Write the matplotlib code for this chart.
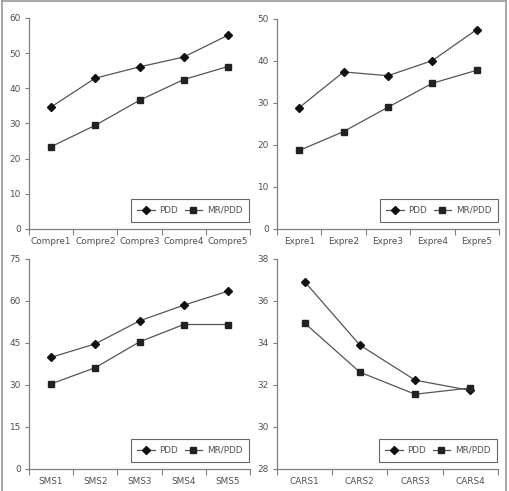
import matplotlib
matplotlib.use("Agg")
import matplotlib.pyplot as plt
from matplotlib.lines import Line2D

plt.rcParams['font.family'] = ['DejaVu Sans']

compre_labels = ["Compre1", "Compre2", "Compre3", "Compre4", "Compre5"]
compre_pdd = [34.7, 42.9, 46.1, 48.9, 55.1]
compre_mr = [23.4, 29.5, 36.6, 42.5, 46.2]

expre_labels = ["Expre1", "Expre2", "Expre3", "Expre4", "Expre5"]
expre_pdd = [28.9, 37.4, 36.5, 40.1, 47.5]
expre_mr = [18.7, 23.2, 29.0, 34.7, 37.8]

sms_labels = ["SMS1", "SMS2", "SMS3", "SMS4", "SMS5"]
sms_pdd = [39.9, 44.7, 52.9, 58.5, 63.5]
sms_mr = [30.4, 36.2, 45.4, 51.6, 51.6]

cars_labels = ["CARS1", "CARS2", "CARS3", "CARS4"]
cars_pdd = [36.92, 33.9, 32.23, 31.74]
cars_mr = [34.95, 32.61, 31.56, 31.86]

W, H = 510, 491
fig = plt.figure(figsize=(W / 100, H / 100), dpi=100)

def rect(x0, x1, ytop, ybot):
    return [x0 / W, 1 - ybot / H, (x1 - x0) / W, (ybot - ytop) / H]

panels = [
    (rect(29, 250, 18, 229), compre_labels, compre_pdd, compre_mr, (0, 60), [0, 10, 20, 30, 40, 50, 60]),
    (rect(277, 499, 19, 229), expre_labels, expre_pdd, expre_mr, (0, 50), [0, 10, 20, 30, 40, 50]),
    (rect(29, 250, 259, 469), sms_labels, sms_pdd, sms_mr, (0, 75), [0, 15, 30, 45, 60, 75]),
    (rect(277, 498, 259, 469), cars_labels, cars_pdd, cars_mr, (28, 38), [28, 30, 32, 34, 36, 38]),
]

axis_color = "#7f7f7f"
text_color = "#505050"
line_color = "#555555"
fs = 6.4

for pos, labels, pdd, mr, ylim, yticks in panels:
    ax = fig.add_axes(pos)
    n = len(labels)
    x = list(range(n))
    ax.plot(x, pdd, color=line_color, lw=0.9, marker='D', ms=3.8,
            mfc='#111111', mec='#111111', label='PDD', clip_on=False)
    ax.plot(x, mr, color=line_color, lw=0.9, marker='s', ms=4.0,
            mfc='#222222', mec='#222222', label='MR/PDD', clip_on=False)
    ax.set_xlim(-0.5, n - 0.5)
    ax.set_ylim(*ylim)
    ax.set_yticks(yticks)
    ax.set_xticks([i - 0.5 for i in range(n + 1)])
    ax.set_xticklabels([])
    ax.set_xticks(x, minor=True)
    ax.set_xticklabels(labels, minor=True)
    ax.tick_params(axis='x', which='major', length=4, width=0.8, color=axis_color, direction='out')
    ax.tick_params(axis='x', which='minor', length=0, pad=6, labelsize=fs, labelcolor=text_color)
    ax.tick_params(axis='y', length=3, width=0.8, color=axis_color, labelsize=fs,
                   labelcolor=text_color, pad=3)
    for s in ['top', 'right']:
        ax.spines[s].set_visible(False)
    for s in ['left', 'bottom']:
        ax.spines[s].set_color(axis_color)
        ax.spines[s].set_linewidth(0.9)
    leg = ax.legend(loc='lower right', ncol=2, frameon=True, fancybox=False,
                    fontsize=fs, handlelength=2.0, handletextpad=0.5, columnspacing=0.7,
                    borderpad=0.75, borderaxespad=0.0, bbox_to_anchor=(0.995, 0.035))
    leg.get_frame().set_edgecolor('#404040')
    leg.get_frame().set_linewidth(0.8)
    for t in leg.get_texts():
        t.set_color(text_color)

# outer frame
border = "#9a9a9a"
fig.add_artist(Line2D([2 / W, 2 / W], [0, 1 - 1 / H], color=border, lw=1.2))
fig.add_artist(Line2D([2 / W, 506 / W], [1 - 1 / H, 1 - 1 / H], color=border, lw=1.2))
fig.add_artist(Line2D([506 / W, 506 / W], [0, 1 - 1 / H], color=border, lw=1.2))

fig.savefig("out.png", dpi=100)
